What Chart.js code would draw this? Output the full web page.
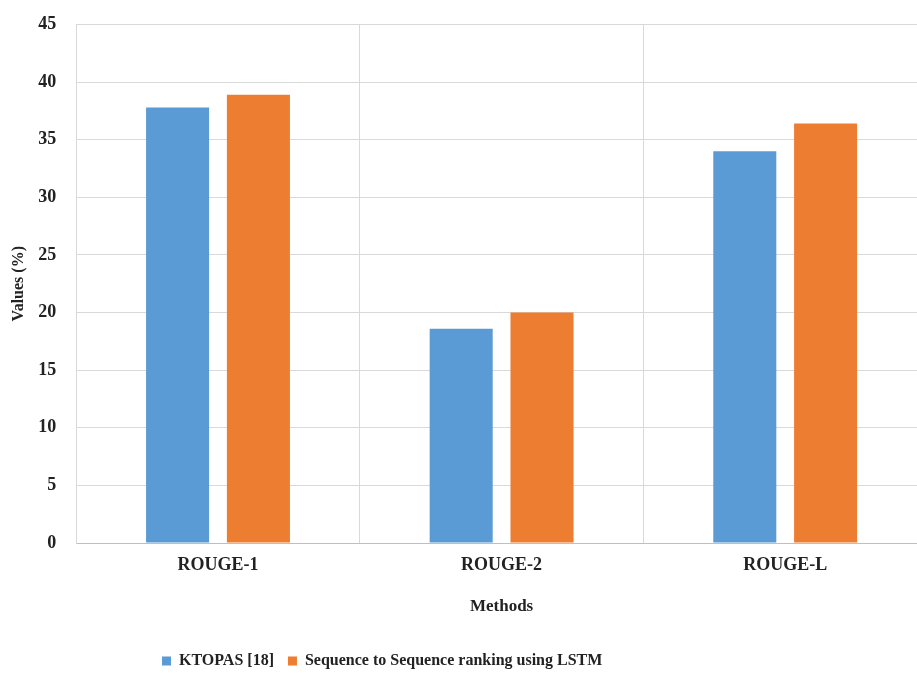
<!DOCTYPE html>
<html>
<head>
<meta charset="utf-8">
<script src="https://cdn.jsdelivr.net/npm/chart.js@4"></script>
<style>
  html, body { margin: 0; padding: 0; background: #fff; overflow: hidden; }
  #wrap { width: 935px; height: 673px; }
</style>
</head>
<body>
<div id="wrap"><canvas id="chart" width="935" height="673"></canvas></div>
<script>
// categories + series values
const methods = ['ROUGE-1', 'ROUGE-2', 'ROUGE-L'];
const ktopas = [37.8, 18.6, 34.0];
const seq2seq = [38.9, 20.0, 36.4];
const yTicks = [0, 5, 10, 15, 20, 25, 30, 35, 40, 45];

const fontFamily = '"Liberation Serif", "Times New Roman", serif';
const legendStartX = 162; // legend in the original sits left of centre

// shift the legend row so it starts where the original one does
const legendShift = {
    id: 'legendShift',
    afterLayout(chart) {
        const lg = chart.legend;
        if (!lg || !lg.lineWidths) return;
        const pad = lg.options.labels.padding;
        lg.right = 2 * legendStartX - lg.left - pad + lg.lineWidths[0];
        lg.top += 6;
        lg.bottom += 6;
    }
};

const ctx = document.getElementById('chart').getContext('2d');
new Chart(ctx, {
    type: 'bar',
    data: {
        labels: methods,
        datasets: [{
            label: 'KTOPAS [18]',
            data: ktopas,
            backgroundColor: '#5b9bd5',
            categoryPercentage: 0.57,
            barPercentage: 0.78
        }, {
            label: 'Sequence to Sequence ranking using LSTM',
            data: seq2seq,
            backgroundColor: '#ed7d31',
            categoryPercentage: 0.57,
            barPercentage: 0.78
        }]
    },
    options: {
        responsive: false,
        animation: false,
        layout: { padding: { top: 2, right: 8, left: 9, bottom: 0 } },
        plugins: {
            legend: {
                position: 'bottom',
                labels: {
                    boxWidth: 9,
                    boxHeight: 9,
                    padding: 14,
                    color: '#222',
                    font: { family: fontFamily, size: 16, weight: 'bold' }
                }
            },
            tooltip: { enabled: false }
        },
        scales: {
            x: {
                grid: { color: '#d9d9d9', offset: true, drawTicks: false },
                border: { color: '#bfbfbf' },
                ticks: {
                    color: '#222',
                    padding: 12,
                    font: { family: fontFamily, size: 18, weight: 'bold' }
                },
                title: {
                    display: true,
                    text: 'Methods',
                    color: '#222',
                    padding: { top: 8, bottom: 16 },
                    font: { family: fontFamily, size: 17, weight: 'bold' }
                }
            },
            y: {
                min: 0,
                max: 45,
                afterBuildTicks: axis => {
                    axis.ticks = yTicks.map(v => ({ value: v }));
                },
                grid: { color: '#d9d9d9', drawTicks: false },
                border: { color: '#d9d9d9' },
                ticks: {
                    color: '#222',
                    padding: 20,
                    font: { family: fontFamily, size: 18, weight: 'bold', lineHeight: 0.5 }
                },
                title: {
                    display: true,
                    text: 'Values (%)',
                    color: '#222',
                    padding: { top: 0, bottom: -10 },
                    font: { family: fontFamily, size: 16, weight: 'bold' }
                }
            }
        }
    },
    plugins: [legendShift]
});
</script>
</body>
</html>
